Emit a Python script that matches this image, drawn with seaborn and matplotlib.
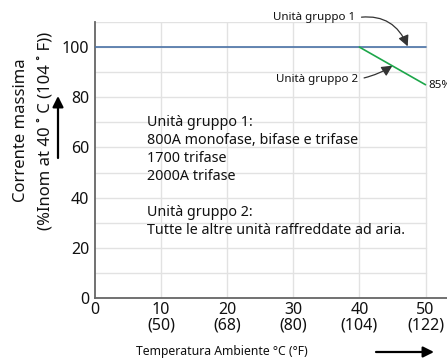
import matplotlib
matplotlib.use("Agg")
import matplotlib.pyplot as plt
import seaborn as sns
import pandas as pd

# Derating curves: ambient temperature (°C) vs. maximum current (% of nominal)
temp_group1 = [0, 50]
current_group1 = [100, 100]
temp_group2 = [40, 50]
current_group2 = [100, 85]

x_ticks = [0, 10, 20, 30, 40, 50]
x_tick_labels = ["0", "10\n(50)", "20\n(68)", "30\n(80)", "40\n(104)", "50\n(122)"]
y_ticks = [0, 20, 40, 60, 80, 100]

sns.set_theme(style="white")
plt.rcParams["font.family"] = ["Noto Sans", "DejaVu Sans"]

fig = plt.figure(figsize=(4.47, 3.6), dpi=100)
ax = fig.add_axes([95 / 447, 62 / 360, 352 / 447, 276 / 360])

df1 = pd.DataFrame({"t": temp_group1, "i": current_group1})
df2 = pd.DataFrame({"t": temp_group2, "i": current_group2})

x_max = 50
ax.set_xlim(0, 53.25)
ax.set_ylim(0, 110)

# light grid, limited to the 0–50 °C range
for y in range(10, 111, 10):
    ax.plot([0, x_max], [y, y], color="#e2e2e2", lw=1, zorder=0)
for x in range(10, 51, 10):
    ax.plot([x, x], [0, 110], color="#e2e2e2", lw=1, zorder=0)

sns.lineplot(data=df1, x="t", y="i", ax=ax, color="#4a72a6", lw=1.2, zorder=3)
sns.lineplot(data=df2, x="t", y="i", ax=ax, color="#1da64a", lw=1.2, zorder=4)

ax.set_xticks(x_ticks)
ax.set_xticklabels(x_tick_labels, fontsize=11.5, color="#111111", linespacing=0.92)
ax.set_yticks(y_ticks)
ax.set_yticklabels([str(v) for v in y_ticks], fontsize=11.5, color="#111111")
ax.tick_params(axis="x", length=0, pad=3)
ax.tick_params(axis="y", length=0, pad=4)
ax.set_xlabel("")
ax.set_ylabel("")

for side in ["top", "right"]:
    ax.spines[side].set_visible(False)
for side in ["left", "bottom"]:
    ax.spines[side].set_color("#666666")
    ax.spines[side].set_linewidth(1.3)

# notes inside the plot
notes = ("Unità gruppo 1:\n800A monofase, bifase e trifase\n1700 trifase\n2000A trifase\n\n"
         "Unità gruppo 2:\nTutte le altre unità raffreddate ad aria.")
ax.text(7.87, 73.0, notes, fontsize=10.3, va="top", ha="left", color="#111111", linespacing=1.28)

# callouts for the two curves
arrow_kw = dict(arrowstyle="-|>", color="#333333", lw=0.9, mutation_scale=16,
                shrinkA=2, shrinkB=0, relpos=(1.0, 0.5))
ax.annotate("Unità gruppo 1", xy=(47.3, 100.3), xytext=(39.4, 111.6),
            fontsize=8.3, ha="right", va="center", color="#111111",
            arrowprops=dict(connectionstyle="arc3,rad=-0.4", **arrow_kw),
            annotation_clip=False)
ax.annotate("Unità gruppo 2", xy=(45.0, 92.6), xytext=(39.8, 87.2),
            fontsize=8.3, ha="right", va="center", color="#111111",
            arrowprops=dict(connectionstyle="arc3,rad=0.1", **arrow_kw),
            annotation_clip=False)
ax.text(50.5, 84.6, "85%", fontsize=8.3, ha="left", va="center", color="#111111")

# axis titles with direction arrows
fig.text(21 / 447, 1 - 130 / 360, "Corrente massima", rotation=90,
         fontsize=12, ha="center", va="center", color="#111111")
fig.text(46 / 447, 1 - 131 / 360, "(%Inom at 40 ˚ C (104 ˚ F))", rotation=90,
         fontsize=12, ha="center", va="center", color="#111111")
fig.add_artist(matplotlib.patches.FancyArrowPatch(
    (58 / 447, 1 - 158 / 360), (58 / 447, 1 - 96 / 360), transform=fig.transFigure,
    arrowstyle="-|>", mutation_scale=16, color="black", lw=1.6, shrinkA=0, shrinkB=0))

fig.text(222 / 447, 1 - 352 / 360, "Temperatura Ambiente °C (°F)",
         fontsize=8.8, ha="center", va="center", color="#111111")
fig.add_artist(matplotlib.patches.FancyArrowPatch(
    (376 / 447, 1 - 352 / 360), (434 / 447, 1 - 352 / 360), transform=fig.transFigure,
    arrowstyle="-|>", mutation_scale=16, color="black", lw=1.6, shrinkA=0, shrinkB=0))

fig.savefig("out.png", dpi=100)
